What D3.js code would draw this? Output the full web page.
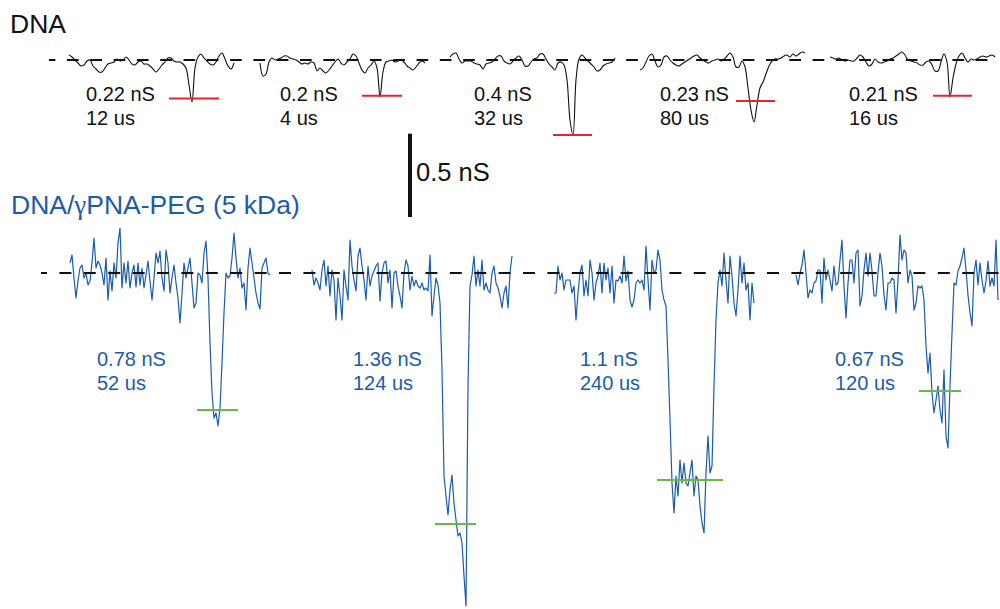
<!DOCTYPE html>
<html>
<head>
<meta charset="utf-8">
<script src="https://cdn.jsdelivr.net/npm/d3@7"></script>
<style>
  body { margin: 0; background: #fff; }
  svg { display: block; font-family: "Liberation Sans", Arial, Helvetica, sans-serif; }
</style>
</head>
<body>
<svg width="1000" height="609"></svg>
<script>
// conductance traces, delta G in pS (negative = blockade), sampled at a fixed step
// DNA alone (top row), dt = 15 us
const dnaStart = [345, 1300, 2250, 3200, 4150];
const dnaDt = 15;
const dnaTraces = [
  [30,18,0,-18,-36,-30,-6,0,-36,-54,
   -72,-72,-48,-24,-18,-12,6,-6,0,18,
   0,-24,-30,-12,-6,-24,-24,-36,-54,-72,
   -54,-30,-12,12,12,-6,-12,-12,-24,-48,
   -150,-252,-48,18,36,12,-6,-24,-30,-12,
   24,42,6,-36,-54,-18],
  [-18,-96,-84,-12,12,0,6,12,24,24,
   12,6,0,-12,-24,-18,-24,-12,-18,-66,
   -48,-66,-78,-60,-36,-12,6,-18,-30,-12,
   6,36,24,-18,-60,-78,-48,-30,-6,-48,
   -222,-72,-12,-6,0,-12,-6,0,-12,-36,
   -48,-60,-42,-18,-6,-18],
  [18,36,42,6,-18,-6,-6,-6,-18,-24,
   -30,-54,-24,-18,-12,6,24,24,-6,-18,
   -24,-6,12,24,0,-36,-36,-12,6,12,
   36,36,6,-24,-42,-60,-18,-12,-30,-120,
   -360,-450,-120,6,30,12,-6,-24,-42,-66,
   -60,-36,-24,-18,-12,12],
  [-60,-48,-12,24,36,-6,-42,-30,18,24,
   0,-18,-30,-36,-24,-12,0,12,24,30,
   12,0,-12,-18,-6,0,6,-6,6,24,
   42,18,-42,-42,-6,-42,-168,-300,-372,-270,
   -168,-132,-84,-36,-6,6,6,12,24,30,
   18,36,24,36,48,42],
  [18,12,6,12,0,-6,0,-6,-6,12,
   30,18,-12,-36,-24,6,-12,-18,-12,-6,
   6,12,24,36,48,30,0,-6,-12,-18,
   -30,-30,-12,-6,-30,-66,-66,-12,36,-12,
   -222,-108,-24,24,42,12,-12,6,0,6,
   18,24,18,24,30,18]
];
const dnaLevel = [-231, -214, -450, -246, -214];
const dnaMarkT = [[845, 1095], [1810, 2010], [2765, 2960], [3680, 3875], [4665, 4860]];
const dnaLabelT = [430, 1400, 2370, 3300, 4245];
const dnaG = [0.22, 0.2, 0.4, 0.23, 0.21];
const dnaDwell = [12, 4, 32, 80, 16];

// DNA/gammaPNA-PEG (bottom row), dt = 10 us
const pegStart = [350, 1560, 2770, 3980];
const pegDt = 10;
const pegTraces = [
  [60,108,-30,-150,-48,30,48,-30,0,-72,
   -48,60,210,30,72,48,0,-72,90,-162,
   12,-108,60,-30,180,270,-90,60,-60,72,
   -90,0,48,-84,60,-72,30,-90,-12,72,
   -48,-162,-30,120,60,132,-30,-108,138,60,
   -120,-30,48,-60,-150,-300,-120,60,-30,30,
   90,-60,-210,-180,0,-12,-60,120,192,-30,
   -420,-720,-870,-840,-918,-810,-540,-240,0,-30,
   -18,90,240,90,-30,30,-90,-60,-222,30,
   150,60,-30,-120,-180,-216,30,60,90,0,
   -12],
  [18,-72,-30,-60,-102,18,78,-78,42,-138,
   18,-42,-282,-30,-138,-282,18,-78,-162,198,
   42,-42,-108,102,150,42,-42,-162,42,-78,
   -18,12,42,60,-168,0,60,72,-60,18,
   -210,0,12,-78,-138,-210,0,78,42,-102,
   -18,-78,-42,-78,-90,-60,-102,-90,-108,108,
   -258,-138,-30,-72,-180,-582,-1218,-1338,-1452,-1302,
   -1212,-1380,-1482,-1578,-1560,-1620,-1818,-1998,-678,-78,
   -12,102,-78,18,-78,78,-102,-60,-102,-120,
   0,42,-60,-90,-138,-210,-120,-78,-210,0,
   102],
  [-120,-120,42,-42,0,-102,-42,-42,-42,-120,
   -78,-282,-120,0,48,-138,-42,-138,78,0,
   -162,-60,-18,60,-120,60,-42,30,-120,42,
   -180,-42,-48,-18,-60,102,-48,12,-162,-204,
   -162,-60,-42,-60,-42,-102,162,-42,-222,78,
   0,18,138,78,-102,-162,-198,-522,-882,-1260,
   -1440,-1218,-1338,-1122,-1260,-1140,-1260,-1278,-1200,-1122,
   -1338,-1218,-1242,-1398,-1500,-1560,-1200,-978,-1200,-1158,
   -678,-282,-60,18,-78,120,-42,-180,102,-18,
   -180,-258,-102,102,-60,60,-102,-60,-282,-60,
   -180],
  [-12,-72,0,48,138,0,-150,-102,-120,-60,
   -48,18,18,-180,90,-42,18,-42,-108,42,
   -72,-60,78,198,-78,-270,-60,78,78,-60,
   120,138,-198,-138,18,120,-18,120,12,-138,
   -138,0,120,42,-132,-222,-60,-60,-30,-42,
   -240,-42,228,78,138,120,-60,18,-18,-222,
   -180,-78,-90,-78,-162,-438,-600,-480,-720,-840,
   -762,-678,-822,-900,-582,-978,-1050,-678,-360,-60,
   -72,12,42,90,150,18,-132,-240,-318,0,
   78,-72,60,-42,-120,-48,72,-78,-30,-78,
   198,-162]
];
const pegLevel = [-822, -1506, -1242, -708];
const pegMarkT = [[985, 1190], [2175, 2380], [3285, 3615], [4595, 4805]];
const pegLabelT = [485, 1765, 2900, 4175];
const pegG = [0.78, 1.36, 1.1, 0.67];
const pegDwell = [52, 124, 240, 120];

const dnaSpan = [245, 4965];
const pegSpan = [205, 5000];
const scaleBarPS = 500;

const blue = "#1b5ca9";

const svg = d3.select("svg");

const x = d3.scaleLinear().domain([0, 5000]).range([0, 1000]);
const yTop = d3.scaleLinear().domain([0, -6000]).range([60, 1060]);
const yBot = d3.scaleLinear().domain([0, -6000]).range([273, 1273]);

function drawRow(traces, starts, dt, y, color, width, curve) {
  const line = d3.line()
      .curve(curve)
      .x((d, i) => x(d.t0 + i * dt))
      .y(d => y(d.v));
  traces.forEach((tr, k) => {
    const pts = tr.map(v => ({v: v, t0: starts[k]}));
    svg.append("path")
        .attr("d", line(pts))
        .attr("fill", "none")
        .attr("stroke", color)
        .attr("stroke-width", width)
        .attr("stroke-linejoin", "round");
  });
}

drawRow(dnaTraces, dnaStart, dnaDt, yTop, "#111", 1.1, d3.curveCatmullRom.alpha(0.5));
drawRow(pegTraces, pegStart, pegDt, yBot, blue, 1.2, d3.curveLinear);

// dashed open-pore baselines
svg.append("line")
    .attr("x1", x(dnaSpan[0])).attr("x2", x(dnaSpan[1]))
    .attr("y1", yTop(0)).attr("y2", yTop(0))
    .attr("stroke", "#111").attr("stroke-width", 2)
    .attr("stroke-dasharray", "11.7,11.6").attr("stroke-dashoffset", 5.3);
svg.append("line")
    .attr("x1", x(pegSpan[0])).attr("x2", x(pegSpan[1]))
    .attr("y1", yBot(0)).attr("y2", yBot(0))
    .attr("stroke", "#111").attr("stroke-width", 2)
    .attr("stroke-dasharray", "12,12.4").attr("stroke-dashoffset", 6);

// blockade level markers
svg.selectAll(".dnaMark")
    .data(dnaLevel)
    .enter().append("line")
    .attr("x1", (d, i) => x(dnaMarkT[i][0]))
    .attr("x2", (d, i) => x(dnaMarkT[i][1]))
    .attr("y1", d => yTop(d)).attr("y2", d => yTop(d))
    .attr("stroke", "#e3262c").attr("stroke-width", 2);
svg.selectAll(".pegMark")
    .data(pegLevel)
    .enter().append("line")
    .attr("x1", (d, i) => x(pegMarkT[i][0]))
    .attr("x2", (d, i) => x(pegMarkT[i][1]))
    .attr("y1", d => yBot(d)).attr("y2", d => yBot(d))
    .attr("stroke", "#6bb84a").attr("stroke-width", 2);

// event annotations
function labels(ts, gs, dw, yBase, color) {
  ts.forEach((t, i) => {
    svg.append("text")
        .attr("x", x(t)).attr("y", yBase)
        .attr("font-size", 20).attr("fill", color)
        .text(gs[i] + " nS");
    svg.append("text")
        .attr("x", x(t)).attr("y", yBase + 24)
        .attr("font-size", 20).attr("fill", color)
        .text(dw[i] + " us");
  });
}
labels(dnaLabelT, dnaG, dnaDwell, yTop(0) + 40.5, "#111");
labels(pegLabelT, pegG, pegDwell, yBot(0) + 93, blue);

// row titles
svg.append("text").attr("x", 10).attr("y", 33)
    .attr("font-size", 26.5).attr("fill", "#111").text("DNA");
const t2 = svg.append("text").attr("x", 11).attr("y", 214)
    .attr("font-size", 26.5).attr("fill", blue);
t2.append("tspan").text("DNA/");
t2.append("tspan").attr("font-family", "'Liberation Serif', 'Times New Roman', serif")
    .attr("font-size", 27).text("\u03b3");
t2.append("tspan").text("PNA-PEG (5 kDa)");

// scale bar
const barLen = yTop(-scaleBarPS) - yTop(0);
svg.append("line")
    .attr("x1", x(2050)).attr("x2", x(2050))
    .attr("y1", 217 - barLen).attr("y2", 217)
    .attr("stroke", "#111").attr("stroke-width", 4);
svg.append("text").attr("x", 416).attr("y", 181)
    .attr("font-size", 25.5).attr("fill", "#111")
    .text(scaleBarPS / 1000 + " nS");
</script>
</body>
</html>
